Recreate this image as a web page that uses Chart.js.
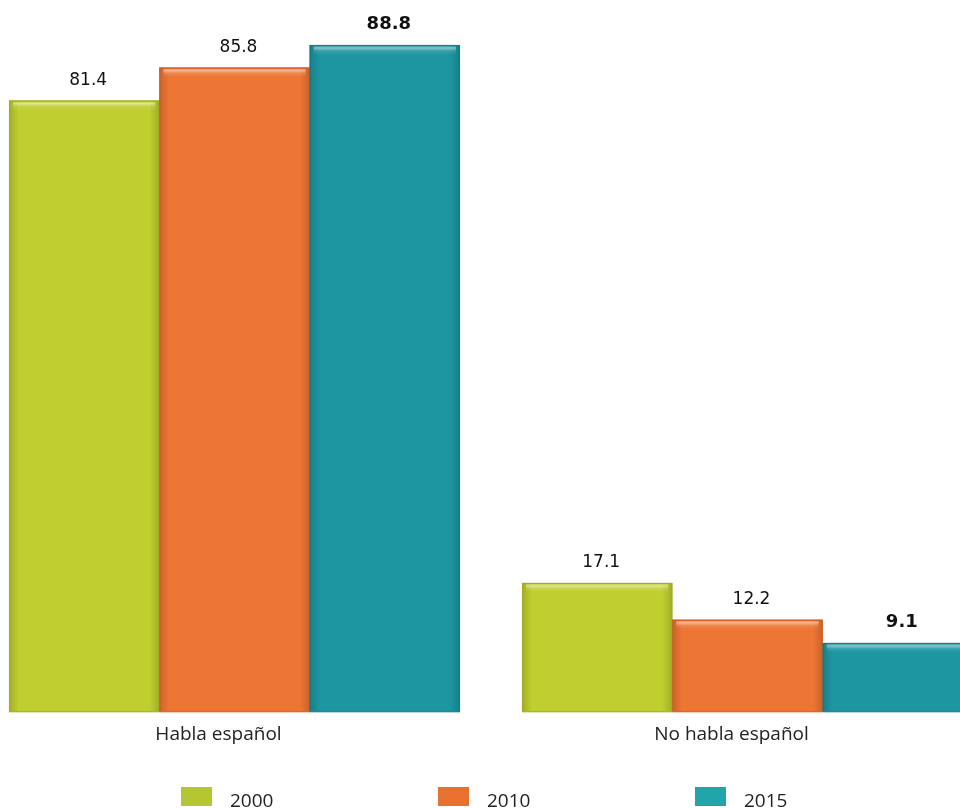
<!DOCTYPE html>
<html><head><meta charset="utf-8">
<script src="https://cdn.jsdelivr.net/npm/chart.js@4"></script>
<style>
html,body{margin:0;padding:0;background:#fff;overflow:hidden;width:960px;height:808px;}
#wrap{position:absolute;left:-22px;top:0;width:1026px;height:830px;}
</style></head><body>
<div id="wrap"><canvas id="c"></canvas></div>
<script>
const categories = ["Habla español", "No habla español"];
const seriesNames = ["2000", "2010", "2015"];
const values2000 = [81.4, 17.1];
const values2010 = [85.8, 12.2];
const values2015 = [88.8, 9.1];

const barColors = ["#c0cf2f", "#ee7634", "#1d96a2"];
const edgeColors = ["#9fac22", "#cf5d20", "#137a86"];
const legendColors = ["#b5c633", "#e8712f", "#1fa5aa"];
const labelBold = [false, false, true];

const bevelPlugin = {
  id: 'bevel',
  afterDatasetsDraw(chart) {
    const ctx = chart.ctx;
    chart.data.datasets.forEach((ds, di) => {
      const meta = chart.getDatasetMeta(di);
      meta.data.forEach(el => {
        const w = el.width, l = el.x - w / 2, r = el.x + w / 2, t = el.y, b = el.base;
        ctx.save();
        let g = ctx.createLinearGradient(l, 0, l + 10, 0);
        g.addColorStop(0, 'rgba(0,0,0,0.16)');
        g.addColorStop(1, 'rgba(0,0,0,0)');
        ctx.fillStyle = g; ctx.fillRect(l, t, 10, b - t);
        g = ctx.createLinearGradient(r - 10, 0, r, 0);
        g.addColorStop(0, 'rgba(0,0,0,0)');
        g.addColorStop(1, 'rgba(0,0,0,0.16)');
        ctx.fillStyle = g; ctx.fillRect(r - 10, t, 10, b - t);
        g = ctx.createLinearGradient(0, t, 0, t + 10);
        g.addColorStop(0, 'rgba(255,255,255,0.0)');
        g.addColorStop(0.3, 'rgba(255,255,255,0.45)');
        g.addColorStop(0.6, 'rgba(255,255,255,0.1)');
        g.addColorStop(1, 'rgba(255,255,255,0)');
        ctx.fillStyle = g; ctx.fillRect(l + 4, t + 1, w - 8, 10);
        ctx.strokeStyle = edgeColors[di];
        ctx.lineWidth = 1.2;
        ctx.strokeRect(l + 0.5, t + 0.5, w - 1, b - t);
        ctx.restore();
      });
    });
  }
};

const valueLabelPlugin = {
  id: 'valueLabels',
  afterDatasetsDraw(chart) {
    const ctx = chart.ctx;
    chart.data.datasets.forEach((ds, di) => {
      const meta = chart.getDatasetMeta(di);
      meta.data.forEach((el, i) => {
        ctx.save();
        ctx.fillStyle = '#111';
        ctx.textAlign = 'center';
        ctx.textBaseline = 'alphabetic';
        ctx.font = labelBold[di] ? 'bold 18px "DejaVu Sans"' : '17px "DejaVu Sans"';
        ctx.fillText(ds.data[i].toFixed(1), el.x + 4, el.y - 16);
        ctx.restore();
      });
    });
  }
};

const legendPlugin = {
  id: 'customLegend',
  afterDraw(chart) {
    const ctx = chart.ctx;
    const cx = (chart.chartArea.left + chart.chartArea.right) / 2;
    const step = 257;
    const top = 787;
    chart.data.datasets.forEach((ds, di) => {
      const x0 = cx - 310 + di * step;
      ctx.save();
      ctx.fillStyle = legendColors[di];
      ctx.fillRect(x0, top, 31, 19);
      ctx.fillStyle = '#222';
      ctx.font = '19px "Open Sans"';
      ctx.textBaseline = 'alphabetic';
      ctx.textAlign = 'left';
      ctx.fillText(ds.label, x0 + 49, top + 20);
      ctx.restore();
    });
  }
};

new Chart(document.getElementById('c'), {
  type: 'bar',
  data: {
    labels: categories,
    datasets: [
      { label: seriesNames[0], data: values2000, backgroundColor: barColors[0] },
      { label: seriesNames[1], data: values2010, backgroundColor: barColors[1] },
      { label: seriesNames[2], data: values2015, backgroundColor: barColors[2] }
    ]
  },
  options: {
    responsive: true,
    maintainAspectRatio: false,
    animation: false,
    layout: { padding: { top: 0, bottom: 72, left: 0, right: 0 } },
    datasets: { bar: { categoryPercentage: 0.879, barPercentage: 1.0 } },
    plugins: { legend: { display: false }, tooltip: { enabled: false } },
    scales: {
      y: { display: false, min: 0, max: 94.8 },
      x: {
        grid: { display: false, drawTicks: false },
        border: { display: false },
        ticks: { color: '#222', font: { family: 'Open Sans', size: 19 }, padding: 12, labelOffset: -16 }
      }
    }
  },
  plugins: [bevelPlugin, valueLabelPlugin, legendPlugin]
});
</script>
</body></html>
